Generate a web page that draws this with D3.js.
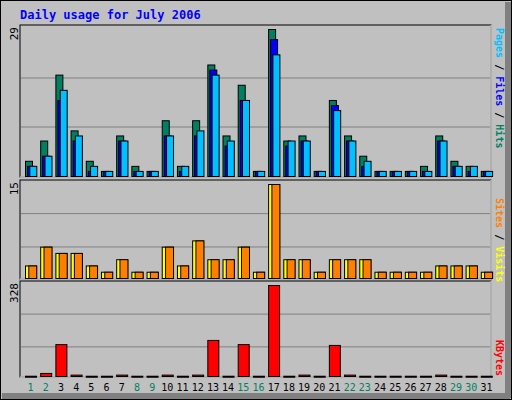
<!DOCTYPE html>
<html><head><meta charset="utf-8">
<script src="https://cdn.jsdelivr.net/npm/d3@7"></script>
<style>body{margin:0;background:#fff}svg{display:block}</style>
</head><body>
<svg id="chart" width="512" height="400"></svg>
<script>
const days = d3.range(1, 32);
const weekends = [1, 2, 8, 9, 15, 16, 22, 23, 29, 30];
const hits  = [3,7,20,9,3,1,8,2,1,11,2,11,22,8,18,1,29,7,8,1,15,8,4,1,1,1,2,8,3,2,1];
const files = [2,4,15,7,1,1,7,1,1,8,1,8,21,6,15,1,27,6,7,1,14,7,2,1,1,1,1,7,2,1,1];
const pages = [2,4,17,8,2,1,7,1,1,8,2,9,20,7,15,1,24,7,7,1,13,7,3,1,1,1,1,7,2,2,1];
const visits = [2,5,4,4,2,1,3,1,1,5,2,6,3,3,5,1,15,3,3,1,3,3,3,1,1,1,1,2,2,2,1];
const sites  = [2,5,4,4,2,1,3,1,1,5,2,6,3,3,5,1,15,3,3,1,3,3,3,1,1,1,1,2,2,2,1];
const kbytes = [1,11,115,5,1,1,5,1,1,5,1,5,130,1,115,1,328,1,5,1,112,5,1,1,1,1,1,5,1,1,1];

const svg = d3.select('#chart');
const font = 'DejaVu Sans Mono, monospace';

// frame
svg.append('rect').attr('x', 0).attr('y', 0).attr('width', 512).attr('height', 400).attr('fill', '#000');
svg.append('rect').attr('x', 1).attr('y', 1).attr('width', 510).attr('height', 398).attr('fill', '#c0c0c0');
svg.append('rect').attr('x', 505).attr('y', 2).attr('width', 6).attr('height', 396).attr('fill', '#808080');
svg.append('rect').attr('x', 2).attr('y', 393).attr('width', 508).attr('height', 6).attr('fill', '#808080');

svg.append('text').attr('x', 20).attr('y', 19).attr('fill', '#0000ff')
  .attr('font-family', font).attr('font-weight', 'bold').attr('font-size', 12)
  .text('Daily usage for July 2006');

const x = d3.scaleBand().domain(days).range([20, 491]);
const s = x.bandwidth();

const panels = [
  {top: 25, bottom: 177, max: 29, grid: [1/3, 2/3]},
  {top: 180, bottom: 279, max: 15, grid: [0.33, 0.685]},
  {top: 281, bottom: 377, max: 328, grid: [0.32, 0.68]}
];

panels.forEach(p => {
  svg.append('rect').attr('x', 20).attr('y', p.top).attr('width', 471).attr('height', p.bottom - p.top)
    .attr('fill', '#c0c0c0').attr('stroke', '#000').attr('stroke-width', 1);
  svg.append('path').attr('d', `M20,${p.bottom}H491V${p.top}`).attr('stroke', '#fff').attr('fill', 'none');
  p.y = d3.scaleLinear().domain([0, p.max]).range([p.bottom - 1, p.top + 4]);
  svg.selectAll(null).data(p.grid).join('line')
    .attr('x1', 21).attr('x2', 490)
    .attr('y1', d => p.y(d * p.max)).attr('y2', d => p.y(d * p.max))
    .attr('stroke', '#808080');
  svg.append('text').attr('transform', `translate(18,${p.top + 2}) rotate(-90)`)
    .attr('text-anchor', 'end').attr('font-family', font).attr('font-size', 11).text(p.max);
});

function bars(values, p, off, w, color) {
  svg.append('g').selectAll('rect').data(values).join('rect')
    .attr('x', (d, i) => x(days[i]) + off + 0.5)
    .attr('y', d => p.y(d) + 0.5)
    .attr('width', w)
    .attr('height', d => Math.max(1, p.y(0) - p.y(d)))
    .attr('fill', color).attr('stroke', '#000');
}
bars(hits, panels[0], 5, 7, '#008060');
bars(files, panels[0], 7, 7, '#0000ff');
bars(pages, panels[0], 9.3, 7, '#00c0ff');
bars(visits, panels[1], 5, 11, '#ffff00');
bars(sites, panels[1], 8.3, 8, '#ff8000');
bars(kbytes, panels[2], 5, 11, '#ff0000');

svg.append('g').selectAll('text').data(days).join('text')
  .attr('x', d => x(d) + s / 2 + 3).attr('y', 391).attr('text-anchor', 'middle')
  .attr('font-family', font).attr('font-size', 10)
  .attr('fill', d => weekends.includes(d) ? '#008060' : '#000')
  .text(d => d);

function sideLabel(parts, yTop) {
  const t = svg.append('text').attr('transform', `translate(496,${yTop}) rotate(90)`)
    .attr('font-family', font).attr('font-size', 10).attr('font-weight', 'bold');
  parts.forEach(([txt, c]) => t.append('tspan').attr('fill', c).text(txt));
}
sideLabel([['Pages', '#00c0ff'], [' / ', '#000'], ['Files', '#0000ff'], [' / ', '#000'], ['Hits', '#008060']], 28);
sideLabel([['Sites', '#ff8000'], [' / ', '#000'], ['Visits', '#ffff00']], 198);
sideLabel([['KBytes', '#ff0000']], 340);
</script>
</body></html>
